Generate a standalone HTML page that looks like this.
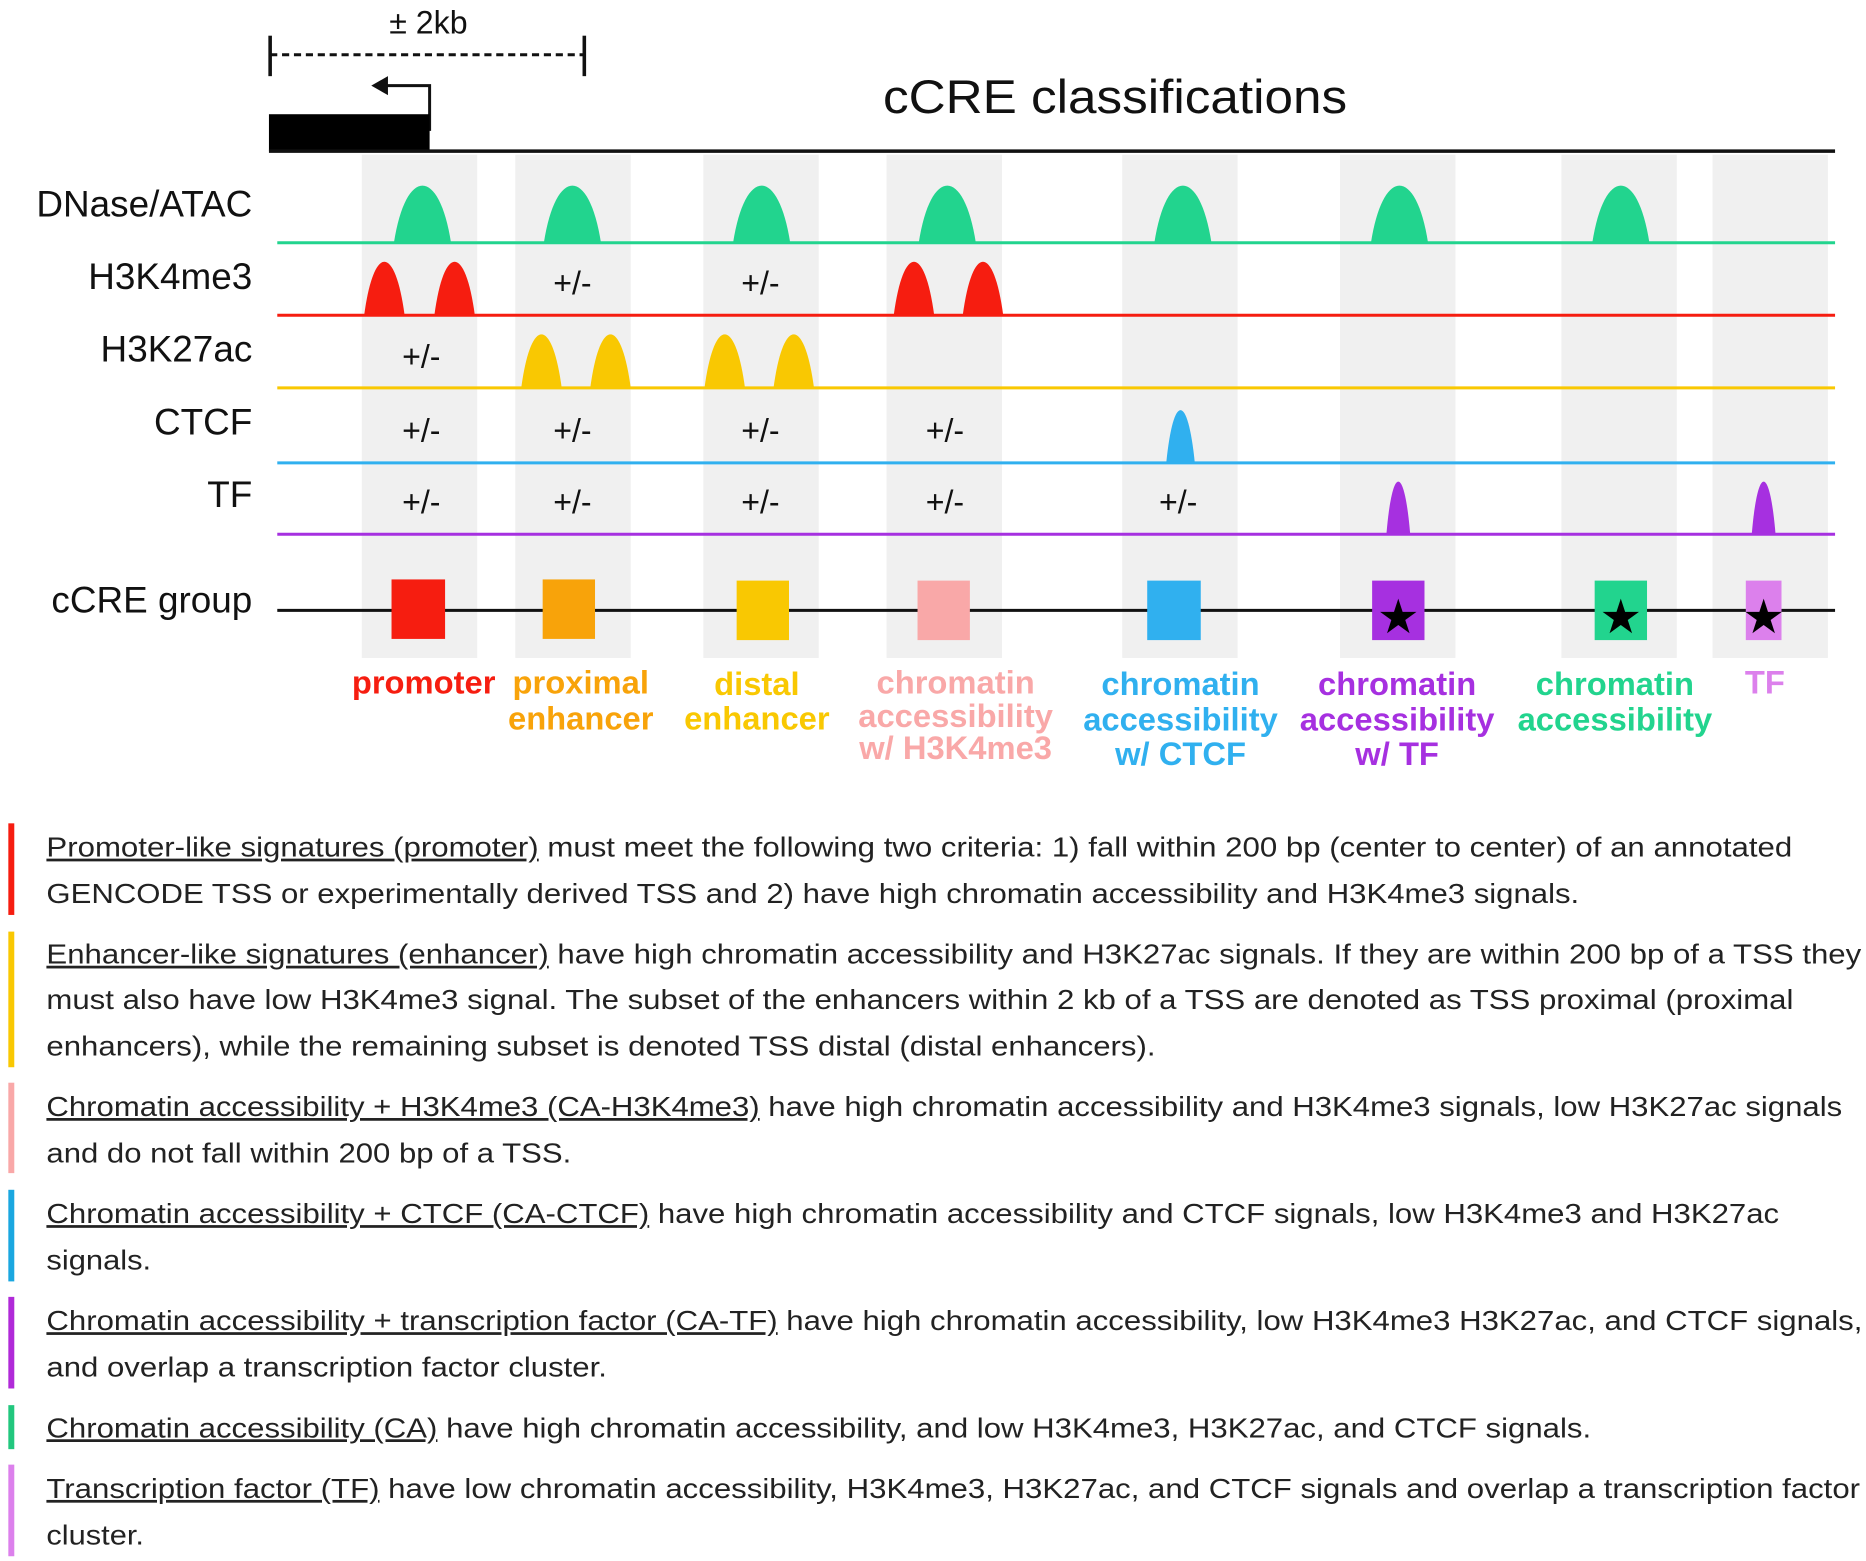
<!DOCTYPE html>
<html><head><meta charset="utf-8"><style>html,body{margin:0;padding:0;background:#fff}svg{display:block}</style></head>
<body>
<svg width="1866" height="1561" viewBox="0 0 1568 1312" preserveAspectRatio="none" xmlns="http://www.w3.org/2000/svg" font-family="Liberation Sans, Arial, sans-serif">
<rect width="1568" height="1312" fill="#fff"/>
<g fill="#f0f0f0">
<rect x="304" y="130" width="97" height="423"/><rect x="433" y="130" width="97" height="423"/>
<rect x="591" y="130" width="97" height="423"/><rect x="745" y="130" width="97" height="423"/>
<rect x="943" y="130" width="97" height="423"/><rect x="1126" y="130" width="97" height="423"/>
<rect x="1312" y="130" width="97" height="423"/><rect x="1439" y="130" width="97" height="423"/>
</g>
<text x="360" y="28" font-size="27" text-anchor="middle" fill="#111">± 2kb</text>
<line x1="227" y1="46" x2="491" y2="46" stroke="#111" stroke-width="2.5" stroke-dasharray="6,4"/>
<line x1="227" y1="30" x2="227" y2="64" stroke="#111" stroke-width="3"/>
<line x1="491" y1="30" x2="491" y2="64" stroke="#111" stroke-width="3"/>
<polyline points="361,110 361,72 322,72" fill="none" stroke="#111" stroke-width="2.5"/>
<polygon points="312,72 326,64 326,80" fill="#111"/>
<rect x="226" y="96" width="135" height="31" fill="#000"/>
<line x1="226" y1="127" x2="1542" y2="127" stroke="#111" stroke-width="3"/>
<text x="742" y="95" font-size="40" fill="#111" textLength="390" lengthAdjust="spacingAndGlyphs">cCRE classifications</text>
<g font-size="31" fill="#111" text-anchor="end">
<text x="212" y="182">DNase/ATAC</text><text x="212" y="243">H3K4me3</text>
<text x="212" y="304">H3K27ac</text><text x="212" y="365">CTCF</text>
<text x="212" y="426">TF</text><text x="212" y="515">cCRE group</text>
</g>
<g fill="#22d48e">
<path d="M331,204 C341,140 369,140 379,204Z"/><path d="M457,204 C467,140 495,140 505,204Z"/>
<path d="M616,204 C626,140 654,140 664,204Z"/><path d="M772,204 C782,140 810,140 820,204Z"/>
<path d="M970,204 C980,140 1008,140 1018,204Z"/><path d="M1152,204 C1162,140 1190,140 1200,204Z"/>
<path d="M1338,204 C1348,140 1376,140 1386,204Z"/>
</g>
<g fill="#f61d10">
<path d="M306,265 C314,205 332,205 340,265Z"/><path d="M365,265 C373,205 391,205 399,265Z"/>
<path d="M751,265 C759,205 777,205 785,265Z"/><path d="M809,265 C817,205 835,205 843,265Z"/>
</g>
<g fill="#f9c802">
<path d="M438,326 C446,266 464,266 472,326Z"/><path d="M496,326 C504,266 522,266 530,326Z"/>
<path d="M592,326 C600,266 618,266 626,326Z"/><path d="M650,326 C658,266 676,266 684,326Z"/>
</g>
<path d="M980,389 C986,330 998,330 1004,389Z" fill="#30b0ef"/>
<path d="M1165,449 C1170,390 1180,390 1185,449Z" fill="#a630e0"/>
<path d="M1472,449 C1477,390 1487,390 1492,449Z" fill="#a630e0"/>
<line x1="233" y1="204" x2="1542" y2="204" stroke="#22d48e" stroke-width="2.5"/>
<line x1="233" y1="265" x2="1542" y2="265" stroke="#f61d10" stroke-width="2.5"/>
<line x1="233" y1="326" x2="1542" y2="326" stroke="#f9c802" stroke-width="2.5"/>
<line x1="233" y1="389" x2="1542" y2="389" stroke="#30b0ef" stroke-width="2.5"/>
<line x1="233" y1="449" x2="1542" y2="449" stroke="#a630e0" stroke-width="2.5"/>
<line x1="233" y1="513" x2="1542" y2="513" stroke="#111" stroke-width="2.5"/>
<g font-size="27" fill="#111" text-anchor="middle">
<text x="481" y="247">+/-</text><text x="639" y="247">+/-</text>
<text x="354" y="309">+/-</text>
<text x="354" y="371">+/-</text><text x="481" y="371">+/-</text><text x="639" y="371">+/-</text><text x="794" y="371">+/-</text>
<text x="354" y="431">+/-</text><text x="481" y="431">+/-</text><text x="639" y="431">+/-</text><text x="794" y="431">+/-</text><text x="990" y="431">+/-</text>
</g>
<rect x="329" y="487" width="45" height="50" fill="#f61d10"/>
<rect x="456" y="487" width="44" height="50" fill="#f8a30a"/>
<rect x="619" y="488" width="44" height="50" fill="#f9c802"/>
<rect x="771" y="488" width="44" height="50" fill="#f9a8a8"/>
<rect x="964" y="488" width="45" height="50" fill="#30b0ef"/>
<rect x="1153" y="488" width="44" height="50" fill="#a630e0"/>
<rect x="1340" y="488" width="44" height="50" fill="#22d48e"/>
<rect x="1467" y="488" width="30" height="50" fill="#dc80ec"/>
<g font-size="40" fill="#000" text-anchor="middle">
<text x="1175" y="532">★</text><text x="1362" y="532">★</text><text x="1482" y="532">★</text>
</g>
<g font-size="27.5" font-weight="bold" text-anchor="middle">
<text x="356" y="583" fill="#f61d10">promoter</text>
<text x="488" y="583" fill="#f8a30a">proximal</text><text x="488" y="613" fill="#f8a30a">enhancer</text>
<text x="636" y="584" fill="#f9c802">distal</text><text x="636" y="613" fill="#f9c802">enhancer</text>
<text x="803" y="583" fill="#f9a8a8">chromatin</text><text x="803" y="611" fill="#f9a8a8">accessibility</text><text x="803" y="638" fill="#f9a8a8">w/ H3K4me3</text>
<text x="992" y="584" fill="#30b0ef">chromatin</text><text x="992" y="614" fill="#30b0ef">accessibility</text><text x="992" y="643" fill="#30b0ef">w/ CTCF</text>
<text x="1174" y="584" fill="#a630e0">chromatin</text><text x="1174" y="614" fill="#a630e0">accessibility</text><text x="1174" y="643" fill="#a630e0">w/ TF</text>
<text x="1357" y="584" fill="#22d48e">chromatin</text><text x="1357" y="614" fill="#22d48e">accessibility</text>
<text x="1483" y="583" fill="#dc80ec">TF</text>
</g>
<rect x="7" y="692" width="5" height="77" fill="#f61d10"/>
<rect x="7" y="783" width="5" height="114" fill="#f9c802"/>
<rect x="7" y="910" width="5" height="76" fill="#f9a8a8"/>
<rect x="7" y="1000" width="5" height="77" fill="#1aa7e0"/>
<rect x="7" y="1090" width="5" height="77" fill="#b02ad8"/>
<rect x="7" y="1181" width="5" height="37" fill="#22c77e"/>
<rect x="7" y="1231" width="5" height="77" fill="#dc80ec"/>
<g font-size="23" fill="#222">
<text x="39" y="720" textLength="1467" lengthAdjust="spacingAndGlyphs"><tspan text-decoration="underline">Promoter-like signatures (promoter)</tspan> must meet the following two criteria: 1) fall within 200 bp (center to center) of an annotated</text>
<text x="39" y="759" textLength="1288" lengthAdjust="spacingAndGlyphs">GENCODE TSS or experimentally derived TSS and 2) have high chromatin accessibility and H3K4me3 signals.</text>
<text x="39" y="810" textLength="1525" lengthAdjust="spacingAndGlyphs"><tspan text-decoration="underline">Enhancer-like signatures (enhancer)</tspan> have high chromatin accessibility and H3K27ac signals. If they are within 200 bp of a TSS they</text>
<text x="39" y="848" textLength="1468" lengthAdjust="spacingAndGlyphs">must also have low H3K4me3 signal. The subset of the enhancers within 2 kb of a TSS are denoted as TSS proximal (proximal</text>
<text x="39" y="887" textLength="932" lengthAdjust="spacingAndGlyphs">enhancers), while the remaining subset is denoted TSS distal (distal enhancers).</text>
<text x="39" y="938" textLength="1509" lengthAdjust="spacingAndGlyphs"><tspan text-decoration="underline">Chromatin accessibility + H3K4me3 (CA-H3K4me3)</tspan> have high chromatin accessibility and H3K4me3 signals, low H3K27ac signals</text>
<text x="39" y="977" textLength="441" lengthAdjust="spacingAndGlyphs">and do not fall within 200 bp of a TSS.</text>
<text x="39" y="1028" textLength="1456" lengthAdjust="spacingAndGlyphs"><tspan text-decoration="underline">Chromatin accessibility + CTCF (CA-CTCF)</tspan> have high chromatin accessibility and CTCF signals, low H3K4me3 and H3K27ac</text>
<text x="39" y="1067" textLength="88" lengthAdjust="spacingAndGlyphs">signals.</text>
<text x="39" y="1118" textLength="1526" lengthAdjust="spacingAndGlyphs"><tspan text-decoration="underline">Chromatin accessibility + transcription factor (CA-TF)</tspan> have high chromatin accessibility, low H3K4me3 H3K27ac, and CTCF signals,</text>
<text x="39" y="1157" textLength="471" lengthAdjust="spacingAndGlyphs">and overlap a transcription factor cluster.</text>
<text x="39" y="1208" textLength="1298" lengthAdjust="spacingAndGlyphs"><tspan text-decoration="underline">Chromatin accessibility (CA)</tspan> have high chromatin accessibility, and low H3K4me3, H3K27ac, and CTCF signals.</text>
<text x="39" y="1259" textLength="1524" lengthAdjust="spacingAndGlyphs"><tspan text-decoration="underline">Transcription factor (TF)</tspan> have low chromatin accessibility, H3K4me3, H3K27ac, and CTCF signals and overlap a transcription factor</text>
<text x="39" y="1298" textLength="82" lengthAdjust="spacingAndGlyphs">cluster.</text>
</g>
</svg>
</body></html>
